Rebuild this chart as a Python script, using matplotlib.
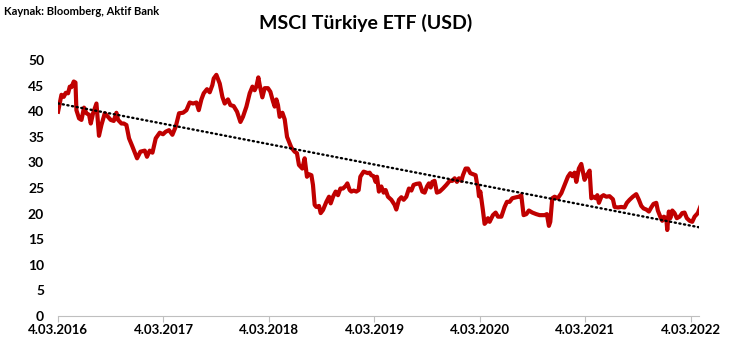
import matplotlib
matplotlib.use("Agg")
import matplotlib.pyplot as plt
import numpy as np

# MSCI Turkey ETF (USD) price; dates as decimal years
years = [
    2016.173, 2016.205, 2016.227, 2016.246, 2016.268, 2016.284, 2016.300, 2016.322, 2016.338, 2016.347,
    2016.372, 2016.395, 2016.419, 2016.442, 2016.467, 2016.483, 2016.505, 2016.537, 2016.561, 2016.584,
    2016.616, 2016.647, 2016.672, 2016.701, 2016.726, 2016.742, 2016.774, 2016.796, 2016.821, 2016.846,
    2016.878, 2016.922, 2016.954, 2016.995, 2017.016, 2017.042, 2017.068, 2017.099, 2017.137, 2017.168,
    2017.194, 2017.225, 2017.257, 2017.289, 2017.320, 2017.358, 2017.390, 2017.421, 2017.453, 2017.485,
    2017.507, 2017.532, 2017.554, 2017.585, 2017.611, 2017.636, 2017.649, 2017.674, 2017.706, 2017.731,
    2017.753, 2017.784, 2017.807, 2017.838, 2017.870, 2017.902, 2017.926, 2017.959, 2017.990, 2018.016,
    2018.037, 2018.053, 2018.072, 2018.085, 2018.110, 2018.132, 2018.163, 2018.186, 2018.211, 2018.227,
    2018.243, 2018.258, 2018.274, 2018.300, 2018.322, 2018.344, 2018.385, 2018.416, 2018.438, 2018.457,
    2018.489, 2018.511, 2018.533, 2018.552, 2018.575, 2018.590, 2018.606, 2018.622, 2018.647, 2018.663,
    2018.685, 2018.717, 2018.742, 2018.758, 2018.780, 2018.805, 2018.827, 2018.850, 2018.874, 2018.900,
    2018.916, 2018.938, 2018.954, 2018.976, 2019.001, 2019.023, 2019.039, 2019.070, 2019.111, 2019.127,
    2019.143, 2019.165, 2019.184, 2019.197, 2019.215, 2019.238, 2019.260, 2019.279, 2019.301, 2019.333,
    2019.364, 2019.380, 2019.405, 2019.428, 2019.450, 2019.475, 2019.500, 2019.523, 2019.544, 2019.570,
    2019.601, 2019.627, 2019.649, 2019.671, 2019.689, 2019.706, 2019.722, 2019.743, 2019.765, 2019.791,
    2019.822, 2019.854, 2019.886, 2019.911, 2019.933, 2019.955, 2019.974, 2019.997, 2020.012, 2020.037,
    2020.059, 2020.082, 2020.107, 2020.132, 2020.145, 2020.154, 2020.164, 2020.177, 2020.201, 2020.217,
    2020.234, 2020.249, 2020.265, 2020.296, 2020.322, 2020.344, 2020.376, 2020.407, 2020.429, 2020.454,
    2020.480, 2020.518, 2020.543, 2020.565, 2020.587, 2020.613, 2020.637, 2020.670, 2020.707, 2020.739,
    2020.786, 2020.808, 2020.827, 2020.840, 2020.859, 2020.881, 2020.912, 2020.945, 2020.976, 2021.007,
    2021.030, 2021.049, 2021.070, 2021.087, 2021.111, 2021.134, 2021.149, 2021.165, 2021.187, 2021.213,
    2021.229, 2021.251, 2021.270, 2021.286, 2021.301, 2021.324, 2021.345, 2021.371, 2021.402, 2021.434,
    2021.450, 2021.481, 2021.513, 2021.544, 2021.566, 2021.592, 2021.623, 2021.655, 2021.680, 2021.703,
    2021.725, 2021.750, 2021.775, 2021.797, 2021.819, 2021.845, 2021.860, 2021.883, 2021.902, 2021.917,
    2021.940, 2021.949, 2021.964, 2021.978, 2021.997, 2022.018, 2022.040, 2022.066, 2022.091, 2022.113,
    2022.135, 2022.161, 2022.186, 2022.208, 2022.239, 2022.262,
]
prices = [
    39.9, 43.2, 42.8, 43.6, 43.5, 44.8, 44.7, 45.8, 45.6, 40.2,
    38.6, 38.3, 40.7, 39.6, 39.3, 37.6, 39.6, 41.5, 35.2, 37.3,
    39.6, 38.9, 38.3, 38.1, 39.7, 38.3, 37.6, 37.6, 37.3, 34.7,
    33.1, 30.8, 32.1, 32.3, 31.1, 32.3, 31.9, 34.7, 35.8, 35.5,
    36.0, 36.3, 35.4, 37.0, 39.6, 39.7, 40.2, 41.7, 41.5, 41.7,
    40.2, 42.3, 43.5, 44.3, 43.7, 45.1, 46.4, 47.1, 45.4, 42.8,
    41.5, 42.3, 41.2, 41.0, 39.9, 37.9, 38.9, 40.9, 43.5, 44.8,
    44.1, 44.8, 46.6, 45.1, 42.7, 44.5, 44.5, 43.8, 41.9, 40.9,
    42.3, 41.2, 38.9, 39.7, 38.4, 35.0, 32.9, 32.1, 31.8, 29.5,
    28.8, 30.8, 27.2, 27.7, 27.5, 25.6, 21.7, 21.3, 21.5, 20.1,
    20.7, 22.3, 23.3, 22.0, 23.3, 24.3, 23.6, 24.9, 24.9, 25.4,
    25.9, 24.6, 24.3, 24.5, 24.3, 24.6, 27.2, 28.2, 27.9, 28.0,
    27.5, 27.3, 26.2, 27.2, 24.3, 25.3, 24.1, 24.6, 23.3, 22.7,
    21.7, 20.8, 22.7, 23.2, 22.7, 23.3, 24.9, 24.5, 25.6, 25.8,
    25.9, 24.3, 24.1, 25.3, 25.9, 25.1, 26.2, 26.4, 24.1, 24.3,
    24.9, 25.6, 26.4, 26.4, 26.9, 26.2, 26.9, 26.4, 27.5, 28.8,
    28.8, 27.9, 27.7, 27.5, 25.9, 25.3, 23.4, 24.3, 20.7, 18.0,
    18.4, 19.1, 18.4, 19.7, 20.2, 19.4, 19.4, 21.3, 22.3, 22.3,
    23.0, 23.2, 23.3, 23.6, 19.7, 19.9, 20.6, 20.2, 19.9, 19.7,
    19.7, 19.9, 17.6, 18.4, 23.0, 23.3, 23.0, 24.0, 25.6, 27.2,
    27.9, 27.3, 28.0, 26.2, 28.8, 29.7, 28.2, 26.6, 27.5, 28.4,
    23.0, 23.3, 23.0, 23.6, 22.1, 23.3, 23.6, 23.3, 23.4, 22.8,
    21.3, 21.2, 21.3, 21.2, 22.1, 22.7, 23.3, 23.8, 22.7, 21.5,
    21.0, 20.8, 20.4, 21.2, 21.9, 22.1, 20.6, 19.4, 18.6, 19.4,
    19.1, 16.8, 20.4, 19.1, 20.6, 20.1, 19.1, 19.4, 20.1, 20.2,
    19.1, 18.6, 18.4, 19.4, 20.1, 21.3,
]

tick_years = [2016, 2017, 2018, 2019, 2020, 2021, 2022]
tick_labels = [f"4.03.{y}" for y in tick_years]

FONT = "Lato"
RED = "#C00000"

x = np.array(years)
y = np.array(prices)

fig = plt.figure(figsize=(7.41, 3.53), dpi=100)
ax = fig.add_axes([0.0783, 0.1048, 0.8650, 0.7252])

ax.plot(x, y, color=RED, linewidth=3.0, solid_joinstyle="round", zorder=3)

# linear trend line (Excel-style)
slope, intercept = np.polyfit(x, y, 1)
tx = np.array([x[0], x[-1]])
ax.plot(tx, slope * tx + intercept, color="black", linewidth=1.7,
        linestyle=(0, (0.5, 1.5)), dash_capstyle="round", zorder=4)

start = 2016 + 63 / 365
ax.set_xlim(start, 2022.25)
ax.set_ylim(0, 50)
ax.set_xticks([t + 63 / 365 for t in tick_years])
ax.set_xticklabels(tick_labels, fontfamily=FONT, fontweight="bold", fontsize=9.5)
ax.set_yticks(range(0, 51, 5))
ax.set_yticklabels([str(v) for v in range(0, 51, 5)], fontfamily=FONT,
                   fontweight="bold", fontsize=10)
ax.tick_params(axis="y", length=0, pad=10)
ax.tick_params(axis="x", length=4, width=0.8, color="#BFBFBF", pad=1.5, direction="out")

for s in ["top", "right", "left"]:
    ax.spines[s].set_visible(False)
ax.spines["bottom"].set_color("#BFBFBF")
ax.spines["bottom"].set_linewidth(0.8)
ax.patch.set_alpha(0)

fig.text(0.493, 0.935, "MSCI Türkiye ETF (USD)", ha="center", va="center",
         fontfamily=FONT, fontweight="bold", fontsize=14)
fig.text(0.006, 0.968, "Kaynak: Bloomberg, Aktif Bank", ha="left", va="center",
         fontfamily=FONT, fontweight="bold", fontsize=8)

fig.savefig("out.png", dpi=100)
